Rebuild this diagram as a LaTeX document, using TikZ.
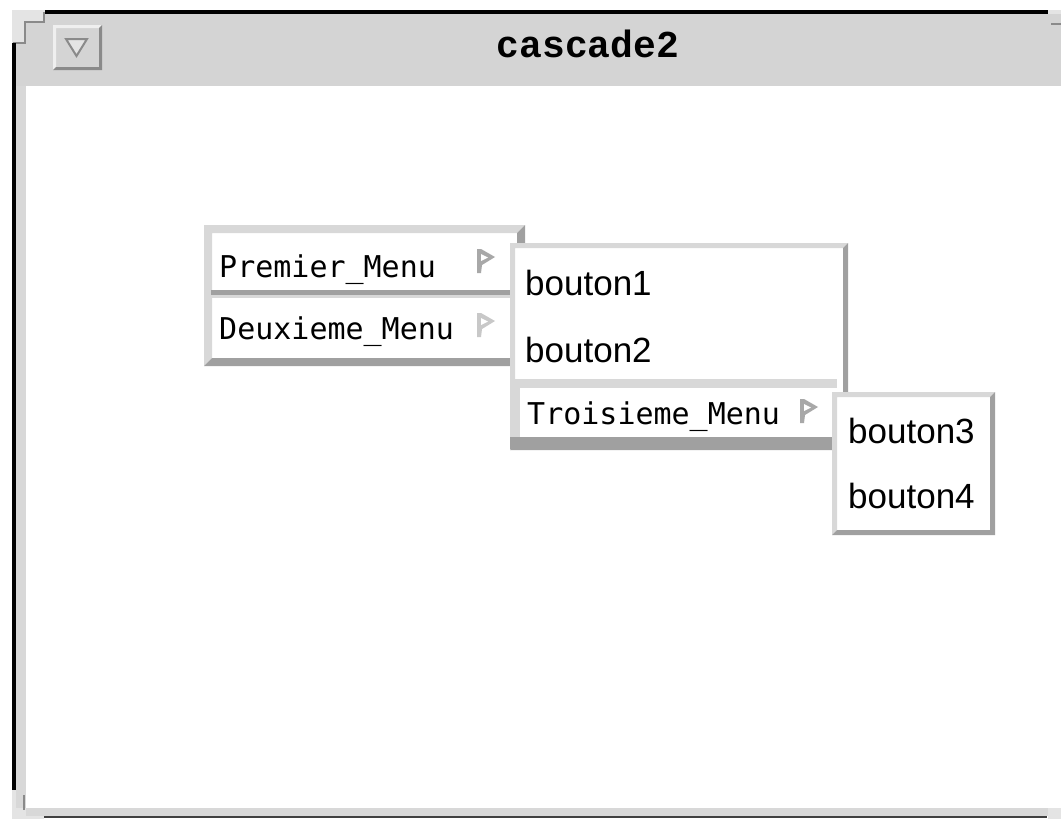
\documentclass[tikz,border=0pt]{standalone}
\usepackage{fontspec}
\newfontfamily\menufont{DejaVu Sans Mono}
\newfontfamily\btnfont{Liberation Sans}
\newfontfamily\ttlfont{Liberation Mono}
\definecolor{winbg}{HTML}{D4D4D4}
\definecolor{framelight}{HTML}{E4E4E4}
\definecolor{stepdark}{HTML}{8A8A8A}
\definecolor{mlight}{HTML}{D8D8D8}
\definecolor{mdark}{HTML}{A0A0A0}
\definecolor{iconA}{HTML}{A8A8A8}
\definecolor{iconB}{HTML}{C8C8C8}
\newcommand\bevelbox[8]{%
  \fill[#8] (#1,#2) rectangle (#3,#4);
  \fill[#6] (#1,#2) -- (#3,#2) -- (#3-#5,#2+#5) -- (#1+#5,#2+#5) -- (#1+#5,#4-#5) -- (#1,#4) -- cycle;
  \fill[#7] (#3,#2) -- (#3,#4) -- (#1,#4) -- (#1+#5,#4-#5) -- (#3-#5,#4-#5) -- (#3-#5,#2+#5) -- cycle;
}
\newcommand\flagicon[3]{%
  \fill[#3] (#1,#2) -- (#1+4,#2) -- (#1+18,#2+8) -- (#1+5,#2+16) -- (#1+4,#2+24) -- (#1,#2+24) -- cycle;
  \fill[white] (#1+4,#2+5) -- (#1+11,#2+8.5) -- (#1+4,#2+12) -- cycle;
}
\tikzset{
  menutext/.style={inner sep=0pt, anchor=base west, font=\menufont\fontsize{30}{36}\selectfont},
  btntext/.style={inner sep=0pt, anchor=base west, font=\btnfont\fontsize{35}{42}\selectfont},
  titletext/.style={inner sep=0pt, anchor=base, font=\ttlfont\bfseries\fontsize{38}{44}\selectfont}
}
\begin{document}
\begin{tikzpicture}[x=1pt,y=-1pt]
\useasboundingbox (0,0) rectangle (1061,819);
\fill[white] (0,0) rectangle (1061,819);
% frame corners
\fill[framelight] (12,10) rectangle (45,43);
\fill[framelight] (1048,10) rectangle (1061,23);
\fill[framelight] (12,790) rectangle (44,819);
\fill[framelight] (1048,808) rectangle (1061,819);
% title bar
\fill[winbg] (16,43) -- (25,43) -- (25,22) -- (44,22) -- (44,14) -- (1061,14) -- (1061,86) -- (16,86) -- cycle;
\draw[stepdark, line width=2pt] (13,43) -- (25,43) -- (25,22) -- (44,22) -- (44,12);
\draw[stepdark, line width=2pt] (1051,23.5) -- (1061,23.5);
% body
\fill[white] (26,86) rectangle (1061,808);
\fill[mlight] (16,86) rectangle (26,808);
\fill[mlight] (26,808) rectangle (1048,816);
\fill[black!75] (44,816) rectangle (1047,818);
\fill[black] (45,10) rectangle (1048,14);
\fill[black] (12,43) rectangle (16,790);
\draw[stepdark, line width=2pt] (24,795) -- (24,810);
% title button
\bevelbox{53}{25}{102}{70}{3}{framelight!60!white}{stepdark}{winbg}
\draw[stepdark, line width=2pt, fill=framelight] (66,39) -- (87,39) -- (76.5,56) -- cycle;
\node[titletext] (title) at (588,57) {cascade2};
% menu 1
\bevelbox{204}{225}{525}{366}{8}{mlight}{mdark}{white}
\fill[mdark] (211,290) rectangle (518,295);
\fill[mlight] (211,295) rectangle (518,298);
\node[menutext] (premier) at (219,277) {Premier\_Menu};
\node[menutext] (deuxieme) at (219,339) {Deuxieme\_Menu};
\flagicon{477}{249}{iconA}
\flagicon{477}{313}{iconB}
% submenu 1
\bevelbox{510}{243}{848}{450}{5}{mlight}{mdark}{white}
\node[btntext] (b1) at (525,295) {bouton1};
\node[btntext] (b2) at (525,362) {bouton2};
\fill[white] (513,379) rectangle (837,448);
\fill[mlight] (511,379) rectangle (837,388);
\fill[mlight] (511,379) rectangle (520,438);
\fill[mdark] (510,437) rectangle (837,449);
\node[menutext] (troisieme) at (527,424) {Troisieme\_Menu};
\flagicon{800}{399}{iconA}
% submenu 2
\bevelbox{832}{392}{995}{535}{5}{mlight}{mdark}{white}
\node[btntext] (b3) at (848,443) {bouton3};
\node[btntext] (b4) at (848,508) {bouton4};
\end{tikzpicture}
\end{document}
